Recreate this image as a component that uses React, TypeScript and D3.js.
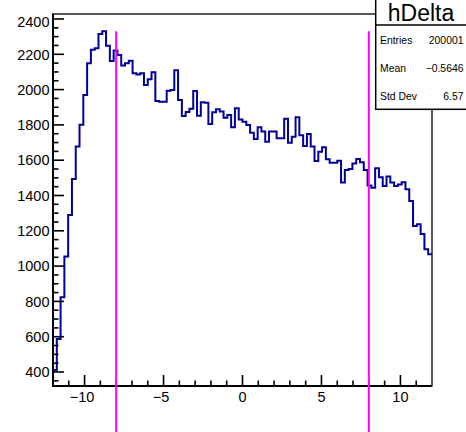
import React from 'react';
import * as d3 from 'd3';

const W = 466;
const H = 432;

// Histogram hDelta: 100 bins from -12 to 12
const xLow = -12;
const xHigh = 12;
const counts: number[] = [
  411, 587, 823, 1055, 1289, 1493, 1677, 1801, 1969, 2149,
  2226, 2234, 2315, 2330, 2249, 2162, 2221, 2196, 2136, 2149,
  2164, 2092, 2085, 2092, 2026, 2058, 2098, 1935, 1931, 1931,
  1994, 1998, 2109, 1941, 1850, 1873, 1892, 1992, 1852, 1928,
  1926, 1805, 1871, 1888, 1876, 1840, 1856, 1786, 1894, 1831,
  1818, 1799, 1756, 1720, 1786, 1762, 1705, 1763, 1762, 1724,
  1724, 1835, 1699, 1733, 1843, 1741, 1680, 1748, 1677, 1595,
  1648, 1673, 1605, 1586, 1586, 1597, 1473, 1545, 1550, 1582,
  1607, 1588, 1545, 1456, 1444, 1554, 1503, 1454, 1507, 1473,
  1454, 1463, 1475, 1435, 1369, 1227, 1237, 1182, 1095, 1067,
];

const yDomain: [number, number] = [320.7, 2428.3];
const xMajorTicks = [-10, -5, 0, 5, 10];
const yMajorTicks = [400, 600, 800, 1000, 1200, 1400, 1600, 1800, 2000, 2200, 2400];
const cutLines = [-8, 8];

const statsTitle = 'hDelta';
const statsLabels = ['Entries', 'Mean', 'Std Dev'];
const statsValues = ['200001', '\u22120.5646', '6.57'];

const fmt = (v: number) => (v < 0 ? '\u2212' + Math.abs(v) : String(v));

export default function App() {
  const left = 53, right = 432, top = 14, bottom = 386;
  const x = d3.scaleLinear().domain([xLow, xHigh]).range([left, right]);
  const y = d3.scaleLinear().domain(yDomain).range([bottom, top]);
  const nb = counts.length;
  const bw = (xHigh - xLow) / nb;

  // step path
  const pts: [number, number][] = [];
  counts.forEach((c, i) => {
    pts.push([xLow + i * bw, c]);
    pts.push([xLow + (i + 1) * bw, c]);
  });
  const line = d3.line<[number, number]>().x(d => x(d[0])).y(d => y(d[1]));
  const histPath = line(pts) || '';

  const xMinor = d3.range(xLow + 1, xHigh, 1).filter(v => !xMajorTicks.includes(v));
  const yMinor = d3.range(350, yDomain[1], 50).filter(v => v % 200 !== 0 && v > yDomain[0]);
  const maxC = d3.max(counts) as number;

  const font = 'Liberation Sans, Arial, Helvetica, sans-serif';

  return (
    <svg width={W} height={H} style={{ position: 'fixed', left: 0, top: 0, background: '#fff' }} fontFamily={font}>
      <rect x={0} y={0} width={W} height={H} fill="#fff" />
      <defs>
        <clipPath id="frameClip">
          <rect x={left} y={top} width={right - left} height={bottom - top} />
        </clipPath>
      </defs>
      <path d={histPath} fill="none" stroke="#000099" strokeWidth={2} clipPath="url(#frameClip)" />
      {/* frame */}
      <rect x={left} y={top} width={right - left} height={bottom - top} fill="none" stroke="#000" strokeWidth={1.3} />
      <line x1={left} x2={left} y1={top - 0.5} y2={bottom + 1} stroke="#000" strokeWidth={2} />
      <line x1={left - 1} x2={right} y1={bottom} y2={bottom} stroke="#000" strokeWidth={2} />
      {/* x ticks */}
      {xMajorTicks.map(v => (
        <g key={'xm' + v}>
          <line x1={x(v)} x2={x(v)} y1={bottom} y2={bottom - 11} stroke="#000" strokeWidth={1.6} />
          <text x={x(v) - (v < 0 ? 2.5 : 0)} y={401.5} fontSize={14.5} textAnchor="middle" fill="#000">{fmt(v)}</text>
        </g>
      ))}
      {xMinor.map(v => (
        <line key={'xn' + v} x1={x(v)} x2={x(v)} y1={bottom} y2={bottom - 5.5} stroke="#000" strokeWidth={1.6} />
      ))}
      {/* y ticks */}
      {yMajorTicks.map(v => (
        <g key={'ym' + v}>
          <line x1={left} x2={left + 11} y1={y(v)} y2={y(v)} stroke="#000" strokeWidth={1.6} />
          <text x={49.5} y={Math.max(y(v), top + 8)} dy="0.36em" fontSize={14.5} textAnchor="end" fill="#000">{fmt(v)}</text>
        </g>
      ))}
      {yMinor.map(v => (
        <line key={'yn' + v} x1={left} x2={left + 5.5} y1={y(v)} y2={y(v)} stroke="#000" strokeWidth={1.6} />
      ))}
      {/* cut lines */}
      {cutLines.map(v => (
        <line key={'cut' + v} x1={x(v)} x2={x(v)} y1={y(0)} y2={y(maxC)} stroke="#ff00ff" strokeWidth={2} />
      ))}
      {/* stats box */}
      <rect x={375.7} y={-2} width={92} height={111.3} fill="#fff" stroke="#000" strokeWidth={1.5} />
      <line x1={375.7} x2={W} y1={25} y2={25} stroke="#000" strokeWidth={1.5} />
      <text x={421} y={21} fontSize={23} textAnchor="middle" fill="#000">{statsTitle}</text>
      {statsLabels.map((l, i) => (
        <g key={l}>
          <text x={380} y={43.7 + i * 28} fontSize={10.4} fill="#000">{l}</text>
          <text x={463.5} y={43.7 + i * 28} fontSize={10.4} textAnchor="end" fill="#000">{statsValues[i]}</text>
        </g>
      ))}
    </svg>
  );
}
